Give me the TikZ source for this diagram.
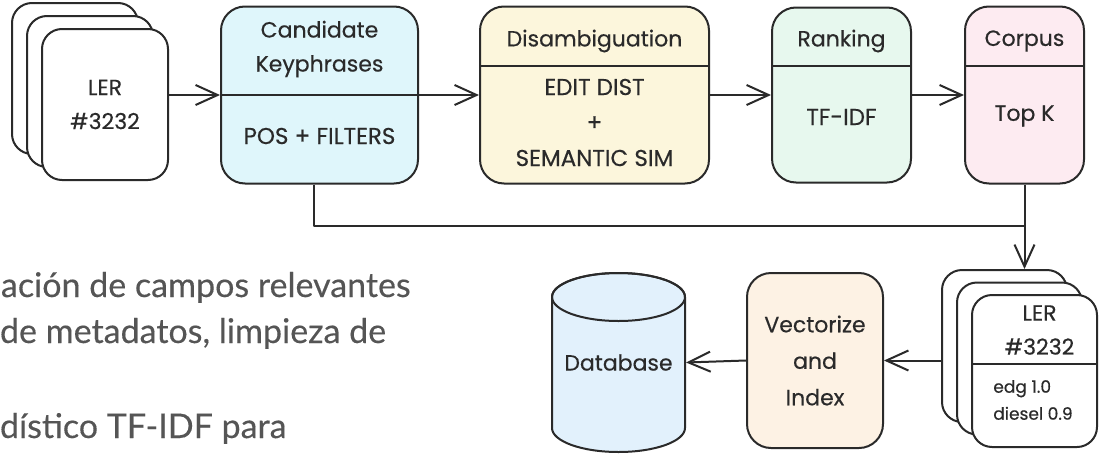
\documentclass[tikz,border=0pt]{standalone}
\usepackage{fontspec}
\setmainfont{Poppins}[FakeBold=0.4]
\newfontfamily\notefont{Lato}[FakeBold=0.3]
\usepackage{tikz}
\usetikzlibrary{arrows.meta}
\usetikzlibrary{positioning}
\definecolor{inkgray}{HTML}{2A2A2A}
\definecolor{notegray}{HTML}{555555}
\definecolor{candFill}{HTML}{DFF6FB}
\definecolor{disFill}{HTML}{FCF6DC}
\definecolor{rankFill}{HTML}{E7F8EE}
\definecolor{corpFill}{HTML}{FDEBF1}
\definecolor{vecFill}{HTML}{FDF2E4}
\definecolor{dbFill}{HTML}{E2F1FC}
\tikzset{
    stage/.style={draw=inkgray, rounded corners=24pt, line width=2pt, inner sep=0pt},
    card/.style={draw=inkgray, fill=white, rounded corners=20pt, line width=2pt, minimum width=126pt, minimum height=151pt},
    txt/.style={text=inkgray, align=center, font=\fontsize{22}{34}\selectfont},
    note/.style={anchor=base west, inner sep=0pt, text=notegray, font=\notefont\fontsize{34}{40}\selectfont},
  }

\begin{document}
\begin{tikzpicture}[->,>={Straight Barb[length=22pt,width=20pt]},line width=2pt,line join=round,color=inkgray,x=1pt,y=1pt,node distance=60pt]
  \useasboundingbox (0,0) rectangle (1101,-453);
  % stack of reports, top left
  \node[card] (ler1a) at (75,-78.5) {};
  \node[card] (ler1b) at (90,-91.5) {};
  \node[card, txt] (ler1c) at (105,-104.5) {LER\\\#3232};

  % pipeline stages
  \node[stage, fill=candFill, minimum width=197pt, minimum height=177pt] (cand) at (319.5,-95) {};
  \node[stage, fill=disFill, minimum width=229pt, minimum height=177pt, right=60pt of cand] (dis) {};
  \node[stage, fill=rankFill, minimum width=139pt, minimum height=175pt, right=61pt of dis] (rank) {};
  \node[stage, fill=corpFill, minimum width=119pt, minimum height=177pt, right=52pt of rank] (corp) {};

  \draw[-] (cand.west) -- (cand.east);
  \draw[-] ([yshift=-60pt]dis.north west) -- ([yshift=-60pt]dis.north east);
  \draw[-] ([yshift=-59pt]rank.north west) -- ([yshift=-59pt]rank.north east);
  \draw[-] ([yshift=-60pt]corp.north west) -- ([yshift=-60pt]corp.north east);

  \node[txt] (candTitle) at ([yshift=-43.5pt]cand.north) {Candidate\\Keyphrases};
  \node[txt, font=\fontsize{23}{34}\selectfont] (candBody) at ([yshift=48.5pt]cand.south) {POS + FILTERS};
  \node[txt] (disTitle) at ([yshift=-35.5pt]dis.north) {Disambiguation};
  \node[txt, font=\fontsize{23}{35.5}\selectfont] (disBody) at ([yshift=-117pt]dis.north) {EDIT DIST\\+\\SEMANTIC SIM};
  \node[txt] (rankTitle) at ([yshift=-34.5pt]rank.north) {Ranking};
  \node[txt, font=\fontsize{23}{34}\selectfont] (rankBody) at ([yshift=-110.5pt]rank.north) {TF-IDF};
  \node[txt] (corpTitle) at ([yshift=-35.5pt]corp.north) {Corpus};
  \node[txt] (corpBody) at ([yshift=-110.5pt]corp.north) {Top K};

  \draw (ler1c.east |- cand.west) -- (cand.west);
  \draw (cand.east) -- (dis.west);
  \draw (dis.east) -- (rank.west);
  \draw (rank.east) -- (corp.west);

  % stack of scored reports, bottom right
  \node[card, minimum width=125pt, minimum height=152pt] (ler2a) at (1004.5,-346) {};
  \node[card, minimum width=125pt, minimum height=152pt] (ler2b) at (1019.5,-358.5) {};
  \node[card, minimum width=125pt, minimum height=152pt] (ler2c) at (1034.5,-371) {};
  \draw[-] ([yshift=-70pt]ler2c.north west) -- ([yshift=-70pt]ler2c.north east);
  \node[txt] (ler2Id) at ([xshift=5pt,yshift=-36pt]ler2c.north) {LER\\\#3232};
  \node[txt, align=left, anchor=west, font=\fontsize{17}{27}\selectfont] (ler2Score) at ([xshift=18pt,yshift=-29pt]ler2c.west) {edg 1.0\\diesel 0.9};

  \coordinate (join) at (corp.south |- 0,-226);
  \draw[-] ([xshift=-6pt]cand.south) |- (join);
  \draw (corp.south) -- (corp.south |- ler2a.north);

  % indexing and storage
  \node[stage, fill=vecFill, minimum width=136pt, minimum height=175pt, txt, font=\fontsize{22}{36.5}\selectfont] (vec) at (815,-360.5) {Vectorize\\and\\Index};
  \path[draw=inkgray, fill=dbFill] (552,-297) -- (552,-428) arc[start angle=180, end angle=360, x radius=66.5, y radius=24] -- (685,-297) arc[start angle=0, end angle=180, x radius=66.5, y radius=24] -- cycle;
  \draw[-] (618.5,-297) ellipse[x radius=66.5, y radius=24];
  \node[txt, minimum width=133pt, minimum height=179pt] (db) at (618.5,-362.5) {Database};

  \draw (ler2a.west |- vec.east) -- (vec.east);
  \draw (vec.west) -- (db.east);

  % slide text, cut at the left edge
  \node[note] (note1) at (0,-297) {ación de campos relevantes};
  \node[note] (note2) at (-1,-343) {de metadatos, limpieza de};
  \node[note] (note3) at (-1,-438) {dístico TF-IDF para};
\end{tikzpicture}
\end{document}
